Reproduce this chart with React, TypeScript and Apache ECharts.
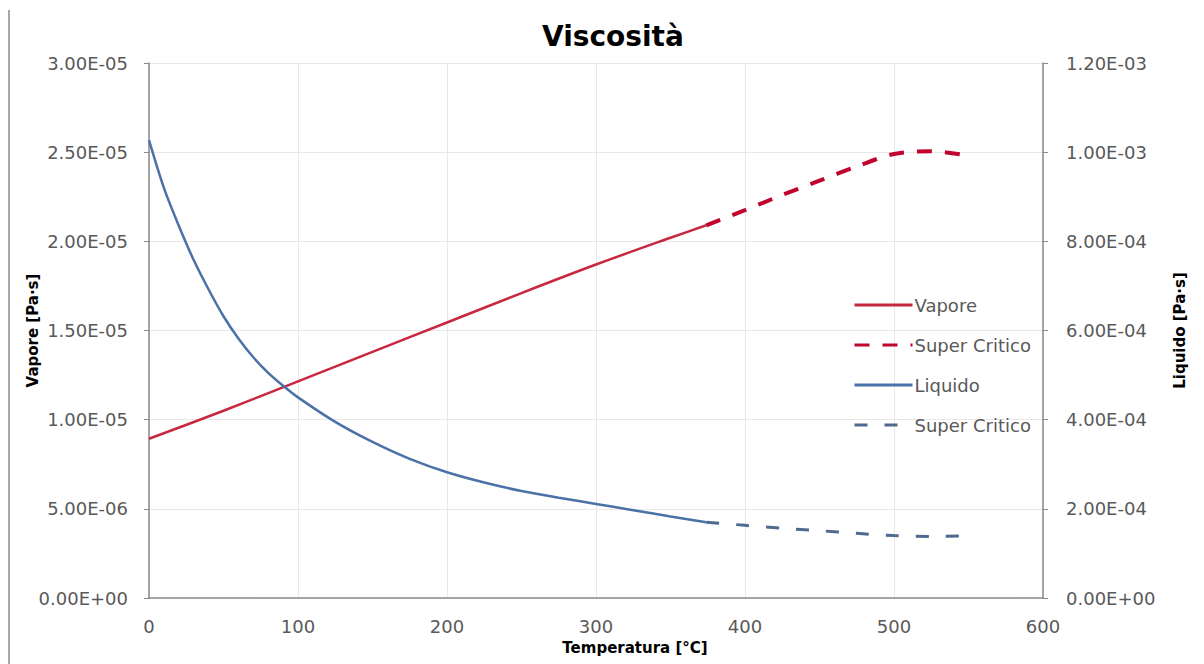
import React, { useEffect, useRef } from "react";
import * as echarts from "echarts";

// Vapore (left axis, Pa·s)
const vaporTemps = [0, 50, 100, 150, 200, 250, 300, 350, 374];
const vaporValues = [8.93e-6, 1.05e-5, 1.215e-5, 1.38e-5, 1.545e-5, 1.71e-5, 1.87e-5, 2.02e-5, 2.09e-5];

// Vapore super critico (left axis)
const vaporScTemps = [374, 400, 425, 450, 475, 500, 525, 550];
const vaporScValues = [2.09e-5, 2.175e-5, 2.26e-5, 2.34e-5, 2.42e-5, 2.49e-5, 2.505e-5, 2.48e-5];

// Liquido (right axis, Pa·s)
const liquidTemps = [0, 10, 20, 30, 40, 50, 60, 70, 80, 90, 100, 125, 150, 175, 200, 225, 250, 275, 300, 325, 350, 374];
const liquidValues = [
  1.027e-3, 9.2e-4, 8.35e-4, 7.58e-4, 6.92e-4, 6.32e-4, 5.82e-4, 5.4e-4, 5.05e-4, 4.76e-4, 4.5e-4,
  3.95e-4, 3.5e-4, 3.12e-4, 2.82e-4, 2.59e-4, 2.4e-4, 2.25e-4, 2.11e-4, 1.97e-4, 1.83e-4, 1.7e-4,
];

// Liquido super critico (right axis)
const liquidScTemps = [374, 400, 425, 450, 475, 500, 525, 550];
const liquidScValues = [1.7e-4, 1.63e-4, 1.565e-4, 1.51e-4, 1.45e-4, 1.4e-4, 1.38e-4, 1.4e-4];

const xTicks = { min: 0, max: 600, interval: 100 };
const leftTicks = { min: 0, max: 3e-5, interval: 5e-6 };
const rightTicks = { min: 0, max: 1.2e-3, interval: 2e-4 };

const FONT = "DejaVu Sans";

function sci(v: number): string {
  if (Math.abs(v) < 1e-15) return "0.00E+00";
  let exp = Math.floor(Math.log10(Math.abs(v)));
  let mant = v / Math.pow(10, exp);
  mant = Math.round(mant * 100) / 100;
  if (mant >= 10) {
    mant /= 10;
    exp += 1;
  }
  const sign = exp < 0 ? "-" : "+";
  const e = Math.abs(exp).toString().padStart(2, "0");
  return mant.toFixed(2) + "E" + sign + e;
}

const pairs = (xs: number[], ys: number[]) => xs.map((x, i) => [x, ys[i]]);

export default function App() {
  const ref = useRef<HTMLDivElement>(null);
  useEffect(() => {
    if (!ref.current) return;
    const chart = echarts.init(ref.current, undefined, { renderer: "svg" });
    const axisColor = "#8a8a8a";
    const labelColor = "#595959";
    const gridColor = "#e8e8e8";
    chart.setOption({
      animation: false,
      backgroundColor: "#ffffff",
      title: {
        text: "Viscosità",
        left: 542,
        top: 22,
        padding: 0,
        textStyle: { fontFamily: FONT, fontWeight: "bold", fontSize: 28, color: "#000000" },
      },
      grid: { left: 149, right: 161, top: 63, bottom: 66, containLabel: false },
      legend: {
        orient: "vertical",
        left: 853,
        top: 295,
        padding: 0,
        itemWidth: 58,
        itemHeight: 20,
        itemGap: 20,
        itemStyle: { opacity: 0 },
        lineStyle: { width: 3 },
        formatter: (name: string) => name.trim(),
        textStyle: { fontFamily: FONT, fontSize: 18, color: labelColor, padding: [0, 0, 0, -3], height: 20, lineHeight: 20 },
        data: ["Vapore", "Super Critico", "Liquido", "Super Critico "],
      },
      xAxis: {
        type: "value",
        min: xTicks.min,
        max: xTicks.max,
        interval: xTicks.interval,
        name: "Temperatura [°C]",
        nameLocation: "middle",
        nameGap: 42,
        nameMoveOverlap: false,
        nameTextStyle: {
          fontFamily: FONT,
          fontWeight: "bold",
          fontSize: 15,
          color: "#000000",
          padding: [0, 0, 0, 78],
        },
        axisLine: { show: true, lineStyle: { color: axisColor, width: 1.5 } },
        axisTick: { show: false },
        axisLabel: { fontFamily: FONT, fontSize: 18, color: labelColor, margin: 19 },
        splitLine: { show: true, lineStyle: { color: gridColor, width: 1 } },
      },
      yAxis: [
        {
          type: "value",
          position: "left",
          min: leftTicks.min,
          max: leftTicks.max,
          interval: leftTicks.interval,
          name: "Vapore [Pa·s]",
          nameLocation: "middle",
          nameGap: 109,
          nameMoveOverlap: false,
          nameTextStyle: { fontFamily: FONT, fontWeight: "bold", fontSize: 15, color: "#000000" },
          axisLine: { show: true, lineStyle: { color: axisColor, width: 1.5 } },
          axisTick: { show: true, length: 5, lineStyle: { color: axisColor } },
          axisLabel: { fontFamily: FONT, fontSize: 18, color: labelColor, margin: 21, formatter: (v: number) => sci(v) },
          splitLine: { show: true, lineStyle: { color: gridColor, width: 1 } },
        },
        {
          type: "value",
          position: "right",
          min: rightTicks.min,
          max: rightTicks.max,
          interval: rightTicks.interval,
          name: "Liquido [Pa·s]",
          nameLocation: "middle",
          nameGap: 129,
          nameMoveOverlap: false,
          nameTextStyle: { fontFamily: FONT, fontWeight: "bold", fontSize: 15, color: "#000000" },
          axisLine: { show: true, lineStyle: { color: axisColor, width: 1.5 } },
          axisTick: { show: true, length: 5, lineStyle: { color: axisColor } },
          axisLabel: { fontFamily: FONT, fontSize: 18, color: labelColor, margin: 23, formatter: (v: number) => sci(v) },
          splitLine: { show: false },
        },
      ],
      graphic: [
        {
          type: "line",
          shape: { x1: 9, y1: 10, x2: 9, y2: 664 },
          style: { stroke: "#a8a8a8", lineWidth: 2 },
          silent: true,
        },
      ],
      series: [
        {
          name: "Vapore",
          type: "line",
          yAxisIndex: 0,
          data: pairs(vaporTemps, vaporValues),
          smooth: 0.3,
          showSymbol: false,
          symbol: "none",
          itemStyle: { color: "#C8283F" },
          lineStyle: { color: "#C8283F", width: 2.5, type: "solid" },
        },
        {
          name: "Super Critico",
          type: "line",
          yAxisIndex: 0,
          data: pairs(vaporScTemps, vaporScValues),
          smooth: 0.3,
          showSymbol: false,
          symbol: "none",
          itemStyle: { color: "#C0042E" },
          lineStyle: { color: "#C0042E", width: 4, type: [15, 13] },
        },
        {
          name: "Liquido",
          type: "line",
          yAxisIndex: 1,
          data: pairs(liquidTemps, liquidValues),
          smooth: 0.3,
          showSymbol: false,
          symbol: "none",
          itemStyle: { color: "#4A72A8" },
          lineStyle: { color: "#4A72A8", width: 2.5, type: "solid" },
        },
        {
          name: "Super Critico ",
          type: "line",
          yAxisIndex: 1,
          data: pairs(liquidScTemps, liquidScValues),
          smooth: 0.3,
          showSymbol: false,
          symbol: "none",
          itemStyle: { color: "#4E6A8E" },
          lineStyle: { color: "#4E6A8E", width: 3, type: [13, 17] },
        },
      ],
    });
    return () => chart.dispose();
  }, []);
  return <div ref={ref} style={{ position: "fixed", left: 0, top: 0, width: 1204, height: 664 }} />;
}
